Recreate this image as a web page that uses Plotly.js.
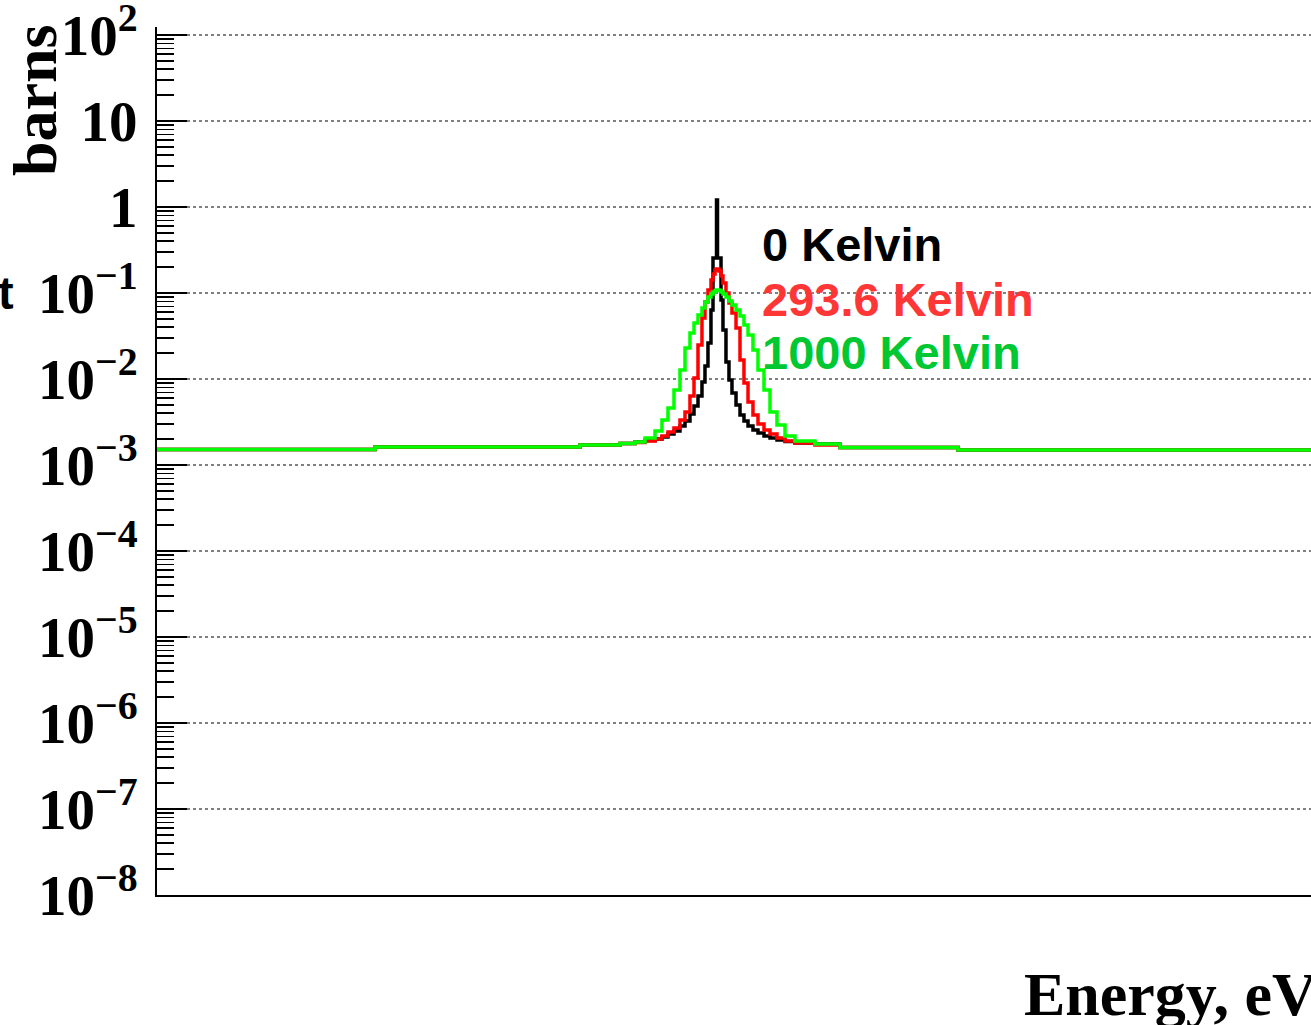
<!DOCTYPE html>
<html>
<head>
<meta charset="utf-8">
<script src="https://cdn.plot.ly/plotly-3.0.1.min.js"></script>
<style>html,body{margin:0;padding:0;background:#fff;overflow:hidden}#chart{width:1311px;height:1025px}</style>
</head>
<body>
<div id="chart"></div>
<script>
// Energy grid (eV), left edges of histogram steps
const energy = [0, 0.3778, 0.7331, 0.8024, 0.8284, 0.8458, 0.8631, 0.8752, 0.8856, 0.8960,
  0.9064, 0.9151, 0.9237, 0.9307, 0.9376, 0.9445, 0.9497, 0.9549, 0.9601, 0.9636,
  0.9671, 0.9697, 0.9714, 0.9740, 0.9775, 0.9809, 0.9861, 0.9913, 0.9965, 1.0035,
  1.0104, 1.0173, 1.0243, 1.0329, 1.0416, 1.0520, 1.0624, 1.0745, 1.0884, 1.1057,
  1.1404, 1.1837, 1.3882, 2.0];

// Cross section (barns)
const xs0K = [0.00151, 0.00162, 0.00171, 0.00178, 0.00185, 0.00193, 0.00201, 0.00212, 0.00229, 0.00249,
  0.00284, 0.00325, 0.00392, 0.00485, 0.00634, 0.00923, 0.01417, 0.02622, 0.06341, 0.2553,
  0.2553, 1.206, 0.2553, 0.2553, 0.08291, 0.03714, 0.01576, 0.00973, 0.00687, 0.00498,
  0.00381, 0.00325, 0.00284, 0.00255, 0.00236, 0.00217, 0.00206, 0.00195, 0.00188, 0.00180,
  0.00175, 0.00160, 0.00149, 0.00149];

const xs293K = [0.00151, 0.00162, 0.00171, 0.00178, 0.00183, 0.00190, 0.00201, 0.00217, 0.00242, 0.00269,
  0.00334, 0.00413, 0.00634, 0.01027, 0.02485, 0.05121, 0.07858, 0.1083, 0.1416, 0.1663,
  0.1851, 0.1901, 0.1901, 0.1803, 0.1576, 0.1307, 0.1000, 0.0765, 0.05852, 0.03917,
  0.01663, 0.00899, 0.00540, 0.00381, 0.00300, 0.00255, 0.00229, 0.00206, 0.00190, 0.00180,
  0.00171, 0.00160, 0.00149, 0.00149];

const xs1000K = [0.00151, 0.00162, 0.00171, 0.00178, 0.00185, 0.00206, 0.00249, 0.00334, 0.00460, 0.00745,
  0.01273, 0.02294, 0.03426, 0.04478, 0.05548, 0.06690, 0.07858, 0.08984, 0.09736, 0.1027,
  0.1069, 0.1083, 0.1083, 0.1069, 0.1027, 0.09736, 0.08984, 0.08072, 0.07251, 0.06341,
  0.05403, 0.04245, 0.03248, 0.02174, 0.01273, 0.00745, 0.00413, 0.00292, 0.00217, 0.00190,
  0.00175, 0.00160, 0.00149, 0.00149];

const seriesNames = ["0 Kelvin", "293.6 Kelvin", "1000 Kelvin"];
const lineColors = ["#000000", "#ff0000", "#00ff00"];
const textColors = ["#000000", "#ff3636", "#00c832"];

// Y axis ticks
const yTickVals = [1e-8, 1e-7, 1e-6, 1e-5, 1e-4, 1e-3, 1e-2, 1e-1, 1, 10, 100];
const yTickText = ["10<sup>\u22128</sup>", "10<sup>\u22127</sup>", "10<sup>\u22126</sup>", "10<sup>\u22125</sup>",
  "10<sup>\u22124</sup>", "10<sup>\u22123</sup>", "10<sup>\u22122</sup>", "10<sup>\u22121</sup>",
  "1", "10", "10<sup>2</sup>"];

const seriesData = [xs0K, xs293K, xs1000K];
const traces = seriesData.map((ys, i) => ({
  type: "scatter", mode: "lines", x: energy, y: ys, name: seriesNames[i],
  line: {color: lineColors[i], width: 3.5, shape: "hv"}, hoverinfo: "skip"
}));

const L = 157, T = 27, W = 1311, H = 1025, B = 895;
const pw = W - L, ph = B - T;
const px = v => (v - L) / pw;
const py = v => (B - v) / ph;

const labelY = [245, 299, 352];
const annotations = seriesNames.map((s, i) => ({
  xref: "paper", yref: "paper", x: px(760), y: py(labelY[i]), xanchor: "left", yanchor: "middle",
  text: s, showarrow: false,
  font: {family: "Liberation Sans, Arial, sans-serif", size: 47, weight: 700, color: textColors[i]}
}));
annotations.push({
  xref: "paper", yref: "paper", x: px(35), y: py(22), xanchor: "center", yanchor: "top",
  text: "barns", textangle: -90, showarrow: false,
  font: {family: "Liberation Serif, Times New Roman, serif", size: 62, weight: 700, color: "#000"}
});
annotations.push({
  xref: "paper", yref: "paper", x: px(1022), y: py(994), xanchor: "left", yanchor: "middle",
  text: "Energy, eV", showarrow: false,
  font: {family: "Liberation Serif, Times New Roman, serif", size: 62, weight: 700, color: "#000"}
});
annotations.push({
  xref: "paper", yref: "paper", x: px(-4), y: py(292), xanchor: "left", yanchor: "middle",
  text: "t", showarrow: false,
  font: {family: "Liberation Sans, Arial, sans-serif", size: 47, weight: 700, color: "#000"}
});

const layout = {
  width: W, height: H,
  margin: {l: L, r: 0, t: T, b: H - B, pad: 0},
  paper_bgcolor: "#fff", plot_bgcolor: "#fff",
  showlegend: false,
  xaxis: {
    type: "linear", range: [0, 2.0], showticklabels: false, ticks: "",
    showgrid: false, zeroline: false,
    showline: true, linecolor: "#000", linewidth: 2
  },
  yaxis: {
    type: "log", range: [-8, 2.093], tickmode: "array", tickvals: yTickVals, ticktext: yTickText,
    ticks: "inside", ticklen: 30, tickwidth: 2, tickcolor: "#000",
    ticklabelstandoff: 6, ticklabeloverflow: "allow",
    tickfont: {family: "Liberation Serif, Times New Roman, serif", size: 57, weight: 700, color: "#000"},
    minor: {dtick: "D1", ticks: "inside", ticklen: 17, tickwidth: 1.5, tickcolor: "#000", showgrid: false},
    showgrid: true, gridcolor: "#808080", gridwidth: 2, griddash: "dot",
    zeroline: false, showline: true, linecolor: "#000", linewidth: 2
  },
  annotations: annotations
};

Plotly.newPlot("chart", traces, layout, {staticPlot: true, displayModeBar: false});
</script>
</body>
</html>
